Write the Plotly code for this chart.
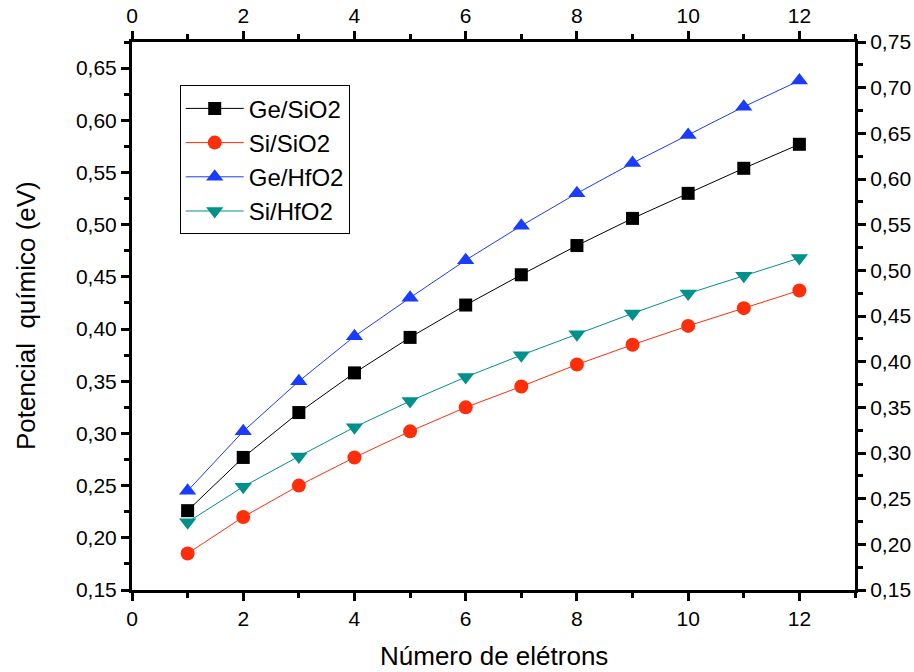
import plotly.graph_objects as go

electrons = [1, 2, 3, 4, 5, 6, 7, 8, 9, 10, 11, 12]
ge_sio2 = [0.226, 0.277, 0.320, 0.358, 0.392, 0.423, 0.452, 0.480, 0.506, 0.530, 0.554, 0.577]
si_sio2 = [0.185, 0.220, 0.250, 0.277, 0.302, 0.325, 0.345, 0.366, 0.385, 0.403, 0.420, 0.437]
ge_hfo2 = [0.245, 0.302, 0.350, 0.393, 0.430, 0.466, 0.499, 0.530, 0.559, 0.586, 0.613, 0.638]
si_hfo2 = [0.215, 0.249, 0.278, 0.306, 0.331, 0.354, 0.375, 0.395, 0.415, 0.434, 0.451, 0.468]

series = [
    ("Ge/SiO2", ge_sio2, "#000000", "square", 13),
    ("Si/SiO2", si_sio2, "#ff2e0a", "circle", 14),
    ("Ge/HfO2", ge_hfo2, "#1a3cff", "triangle-up", 15),
    ("Si/HfO2", si_hfo2, "#00918b", "triangle-down", 15),
]

FONT = "Liberation Sans, Arial, sans-serif"

fig = go.Figure()
for name, vals, color, sym, size in series:
    fig.add_trace(go.Scatter(
        x=electrons, y=vals, name=name, mode="lines+markers",
        line=dict(color=color, width=1),
        marker=dict(symbol=sym, size=size, color=color, line=dict(width=0)),
    ))

# helper trace so secondary axes are rendered
fig.add_trace(go.Scatter(x=[None], y=[None], xaxis="x2", yaxis="y2",
                         showlegend=False, hoverinfo="skip"))

axis_common = dict(
    showline=True, linewidth=3, linecolor="black",
    ticks="outside", ticklen=8, tickwidth=3, tickcolor="black",
    showgrid=False, zeroline=False, automargin=False,
    tickfont=dict(family=FONT, size=21, color="black"),
)
minor_common = dict(ticks="outside", ticklen=5, tickwidth=3, tickcolor="black")

fig.update_layout(
    width=914, height=672,
    margin=dict(l=132, r=59, t=42, b=82),
    paper_bgcolor="white", plot_bgcolor="white",
    separators=",.",
    font=dict(family=FONT, color="black"),
    showlegend=True,
    legend=dict(
        x=0.066, y=0.921, xanchor="left", yanchor="top",
        bgcolor="white", bordercolor="black", borderwidth=1,
        font=dict(family=FONT, size=24, color="black"),
        tracegroupgap=0, itemwidth=58,
    ),
    xaxis=dict(
        **axis_common, range=[0, 13], tick0=0, dtick=2,
        minor=dict(**minor_common, dtick=1),
    ),
    xaxis2=dict(
        **axis_common, range=[0, 13], tick0=0, dtick=2, overlaying="x", side="top",
        minor=dict(**minor_common, dtick=1),
    ),
    yaxis=dict(
        **axis_common, range=[0.15, 0.675], tick0=0.15, dtick=0.05, tickformat=".2f",
        minor=dict(**minor_common, dtick=0.025),
    ),
    yaxis2=dict(
        **axis_common, range=[0.15, 0.75], tick0=0.15, dtick=0.05, tickformat=".2f",
        overlaying="y", side="right",
        minor=dict(**minor_common, dtick=0.025),
    ),
    annotations=[
        dict(text="Número de elétrons", xref="paper", yref="paper",
             x=0.5, y=-0.121, xanchor="center", yanchor="middle", showarrow=False,
             borderpad=0,
             font=dict(family=FONT, size=26, color="black")),
        dict(text="Potencial\u00a0 químico (eV)", xref="paper", yref="paper",
             x=-0.1466, y=0.5, xanchor="center", yanchor="middle", showarrow=False,
             textangle=-90, font=dict(family=FONT, size=26, color="black")),
    ],
)

fig.write_html("out.html", config={"displayModeBar": False},
               post_script="document.body.style.margin='0';")
